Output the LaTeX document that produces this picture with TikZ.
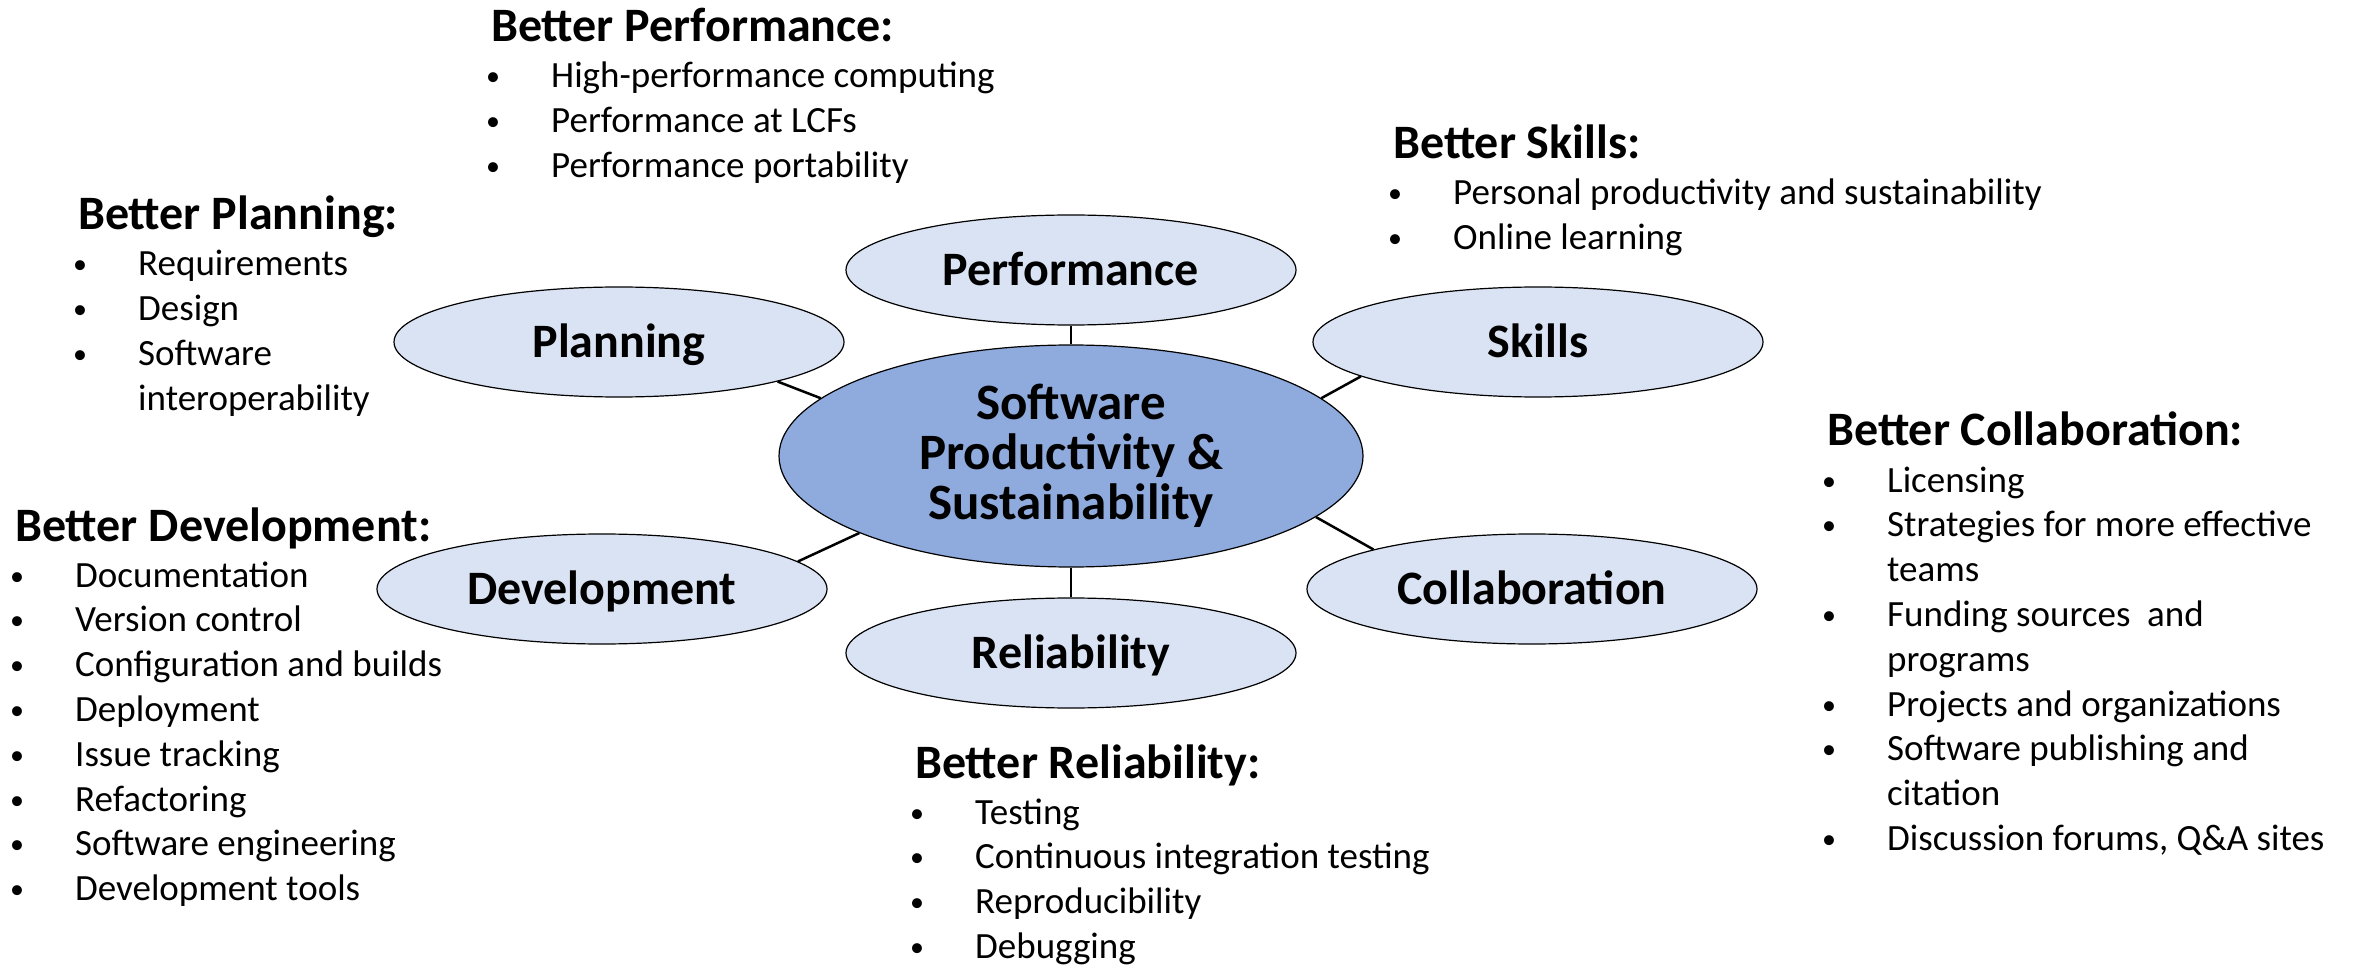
\documentclass[tikz,border=0pt]{standalone}
\usepackage{fontspec}
\setmainfont{Carlito}
\usetikzlibrary{shapes.geometric}
\definecolor{petalfill}{HTML}{DAE3F3}
\definecolor{corefill}{HTML}{8FAADC}
\tikzset{
  petal/.style={ellipse, draw=black, line width=1.2pt, fill=petalfill,
    minimum width=450pt, minimum height=110pt, inner sep=0pt,
    text height=31pt, text depth=0pt,
    font=\fontsize{48}{54}\selectfont\bfseries},
  corebox/.style={ellipse, draw=black, line width=1.2pt, fill=corefill,
    minimum width=584pt, minimum height=222pt, inner sep=0pt, align=center,
    font=\fontsize{51}{50}\selectfont\bfseries},
  link/.style={draw=black, line width=2.5pt},
  head/.style={anchor=base west, inner sep=0pt, font=\fontsize{48}{56}\selectfont\bfseries},
  itm/.style={anchor=base west, inner sep=0pt, font=\fontsize{37}{45}\selectfont},
}
\newcommand{\dotmark}{\makebox[60pt][l]{\hspace{-5pt}\raisebox{2pt}{\fontsize{28}{30}\selectfont\textbullet}}}
\newcommand{\hd}[4]{\node[head] (#1) at (#2,#3) {#4};}
\newcommand{\bi}[4]{\node[itm] (#1) at ({#2},{#3}) {\dotmark#4};}
\newcommand{\ci}[4]{\node[itm] (#1) at ({#2+60},{#3}) {#4};}
\begin{document}
\begin{tikzpicture}[x=1pt,y=-1pt]
\useasboundingbox (0,0) rectangle (2356,965);

% ellipses
\node[corebox] (core) at (1071,456) {Software\\Productivity \&\\Sustainability};
\node[petal] (perf) at (1071,270) {Performance};
\node[petal] (plan) at (619,342) {Planning};
\node[petal] (skill) at (1538,342) {Skills};
\node[petal] (dev) at (602,589) {Development};
\node[petal] (collab) at (1532,589) {Collaboration};
\node[petal] (rel) at (1071,653) {Reliability};

% connectors
\draw[link] (core.90) -- (perf.-90);
\draw[link] (core.-90) -- (rel.90);
\draw[link] (core.167) -- (plan.-14);
\draw[link] (core.13.5) -- (skill.191);
\draw[link] (core.200) -- (dev.8);
\draw[link] (core.-14) -- (collab.166);

% Better Performance
\hd{hperf}{491}{42}{Better Performance:}
\bi{perf1}{491}{88}{High-performance computing}
\bi{perf2}{491}{132.8}{Performance at LCFs}
\bi{perf3}{491}{177.6}{Performance portability}

% Better Planning
\hd{hplan}{78}{230}{Better Planning:}
\bi{plan1}{78}{276}{Requirements}
\bi{plan2}{78}{320.8}{Design}
\bi{plan3}{78}{365.6}{Software}
\ci{plan3b}{78}{410.4}{interoperability}

% Better Skills
\hd{hskill}{1393}{159}{Better Skills:}
\bi{skill1}{1393}{205}{Personal productivity and sustainability}
\bi{skill2}{1393}{249.8}{Online learning}

% Better Collaboration
\hd{hcollab}{1827}{446}{Better Collaboration:}
\bi{col1}{1827}{492}{Licensing}
\bi{col2}{1827}{536.8}{Strategies for more effective}
\ci{col2b}{1827}{581.6}{teams}
\bi{col3}{1827}{626.4}{Funding sources\ \ and}
\ci{col3b}{1827}{671.2}{programs}
\bi{col4}{1827}{716}{Projects and organizations}
\bi{col5}{1827}{760.8}{Software publishing and}
\ci{col5b}{1827}{805.6}{citation}
\bi{col6}{1827}{850.4}{Discussion forums, Q\&A sites}

% Better Development
\hd{hdev}{15}{541}{Better Development:}
\bi{dev1}{15}{587}{Documentation}
\bi{dev2}{15}{631.8}{Version control}
\bi{dev3}{15}{676.6}{Configuration and builds}
\bi{dev4}{15}{721.4}{Deployment}
\bi{dev5}{15}{766.2}{Issue tracking}
\bi{dev6}{15}{811}{Refactoring}
\bi{dev7}{15}{855.8}{Software engineering}
\bi{dev8}{15}{900.6}{Development tools}

% Better Reliability
\hd{hrel}{915}{778}{Better Reliability:}
\bi{rel1}{915}{824}{Testing}
\bi{rel2}{915}{868.8}{Continuous integration testing}
\bi{rel3}{915}{913.6}{Reproducibility}
\bi{rel4}{915}{958.4}{Debugging}
\end{tikzpicture}
\end{document}
